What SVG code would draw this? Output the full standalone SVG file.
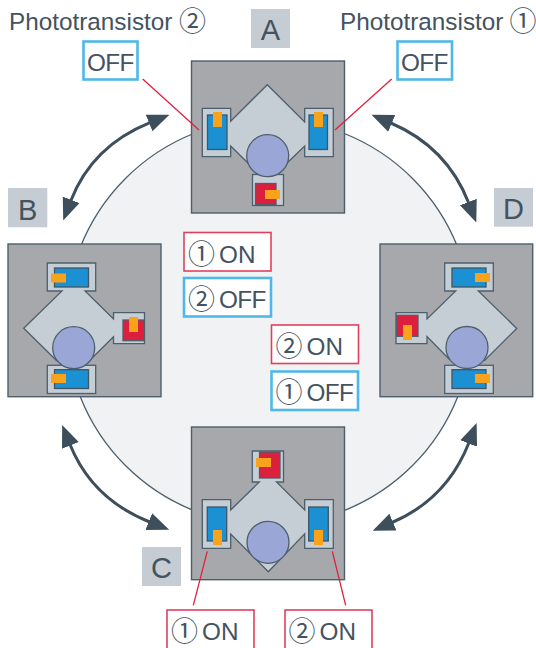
<svg xmlns="http://www.w3.org/2000/svg" width="536" height="648" viewBox="0 0 536 648">
<style>
text{font-family:"Liberation Sans","Noto Sans CJK JP",sans-serif;font-size:24.3px;fill:#44535f}
.big{font-size:29px;text-anchor:middle}
.n{font-family:"Noto Sans CJK JP","Liberation Sans",sans-serif;font-size:27px}
.w{letter-spacing:-.6px}
.frame{fill:#a7a8ab;stroke:#4d5f6c;stroke-width:1.4}
.body{fill:#c6ced5;stroke:#4d5f6c;stroke-width:1.3;stroke-linejoin:miter}
.sens{fill:#c6ced5;stroke:#4d5f6c;stroke-width:1.3}
.blue{fill:#1b90d2;stroke:#3e5666;stroke-width:1.3}
.red{fill:#dc1f3d;stroke:#4d5f6c;stroke-width:1.3}
.or{fill:#f8a31b}
.disc{fill:#99a6d6;stroke:#4d5f6c;stroke-width:1.3}
.tag{fill:#c5ccd3}
.on{fill:#fff;stroke:#e0405f;stroke-width:1.6}
.off{fill:#fff;stroke:#4fb8e8;stroke-width:2.6}
.lead{fill:none;stroke:#e0213f;stroke-width:1.3}
.arc{fill:none;stroke:#3d4f5c;stroke-width:3;marker-start:url(#head);marker-end:url(#head)}
</style>
<defs>
<marker id="head" markerUnits="userSpaceOnUse" markerWidth="22" markerHeight="20" viewBox="0 0 22 20" refX="1" refY="10" orient="auto-start-reverse"><path d="M0 1L22 10L0 19Z" fill="#3d4f5c"/></marker>
</defs>
<circle id="ring" cx="269" cy="322" r="203" fill="#f1f2f4" stroke="#4d5f6c" stroke-width="1.3"/>
<g id="arrows">
<path class="arc" d="M150 122.6Q92 146 70.8 200.8"/>
<path class="arc" d="M390.8 123Q447 147 468.7 203"/>
<path class="arc" d="M70 444.5Q92 499 149.7 522"/>
<path class="arc" d="M469 442.5Q447 499 392 522.5"/>
</g>
<g id="node-a">
<rect class="frame" x="191.5" y="61" width="153" height="152"/>
<path class="body" d="M250 165L230.7 146V156.7H202.3V108.3H230.7V121.3L267.3 84.7L304.7 122V108.3H333.3V156.7H304.7V146L285 165"/>
<rect class="blue" x="207.5" y="115" width="19.5" height="34.5"/><rect class="or" x="213" y="112" width="9" height="15"/>
<rect class="blue" x="309" y="115" width="18.5" height="34.5"/><rect class="or" x="314" y="112" width="9" height="15"/>
<rect class="sens" x="252.5" y="174.5" width="31" height="31"/><rect class="red" x="255.5" y="183.5" width="20.5" height="21"/><rect class="or" x="265" y="190" width="15" height="9"/>
<circle class="disc" cx="267.7" cy="155.7" r="21"/>
<rect class="tag" x="251" y="9" width="39" height="39"/><text class="big" x="270.5" y="40">A</text>
</g>
<g id="node-b">
<rect class="frame" x="8" y="244" width="153" height="152.7"/>
<path class="body" d="M57 361L23.7 328.3L62 291H47.3V263H95.7V291H85L113.5 319V312.7H144.5V343.7H113.5V336.7L90 360"/>
<rect class="blue" x="54.5" y="268" width="34" height="19"/><rect class="or" x="51" y="273.5" width="15" height="9"/>
<rect class="sens" x="47.3" y="365.3" width="48.4" height="28.2"/><rect class="blue" x="54.5" y="369.7" width="34" height="18.8"/><rect class="or" x="51" y="374" width="15" height="9"/>
<rect class="red" x="123" y="320" width="21" height="20.7"/><rect class="or" x="129" y="317" width="9" height="15"/>
<circle class="disc" cx="73.7" cy="347.7" r="21"/>
<rect class="tag" x="8" y="188" width="39.3" height="39.3"/><text class="big" x="27.7" y="220">B</text>
</g>
<g id="node-c">
<rect class="frame" x="191.5" y="427" width="153" height="152.7"/>
<path class="body" d="M252.3 451H283.5V482H276.5L304.7 510V499.7H333.3V548.3H304.7V533.8L268.3 571.7L230.7 534V548.3H202.3V499.7H230.7V510L259.3 482H252.3Z"/>
<rect class="blue" x="207.3" y="507" width="19.4" height="34"/><rect class="or" x="213" y="530" width="9" height="15"/>
<rect class="blue" x="308.7" y="507" width="19.6" height="34"/><rect class="or" x="314" y="530" width="9" height="15"/>
<rect class="red" x="259.5" y="452" width="20.5" height="26"/><rect class="or" x="256" y="458" width="15" height="9"/>
<circle class="disc" cx="268" cy="542.3" r="21"/>
<rect class="tag" x="142" y="547" width="39" height="39"/><text class="big" x="161.5" y="578">C</text>
</g>
<g id="node-d">
<rect class="frame" x="380" y="244" width="152.7" height="152.7"/>
<path class="body" d="M450 360L427 336.5V343.7H396V312.7H427V319L455.7 291H444.7V263H493.3V291H478.3L516.7 328.5L484 361"/>
<rect class="blue" x="452" y="268" width="34" height="19"/><rect class="or" x="475" y="273" width="15" height="9"/>
<rect class="sens" x="444.7" y="365.3" width="48.6" height="28.2"/><rect class="blue" x="452" y="369.7" width="34" height="18.8"/><rect class="or" x="475" y="374" width="15" height="9"/>
<rect class="red" x="396.7" y="315.3" width="21.3" height="21"/><rect class="or" x="403" y="325" width="9" height="15"/>
<circle class="disc" cx="467" cy="347.5" r="21"/>
<rect class="tag" x="494" y="188" width="39" height="38.7"/><text class="big" x="513.5" y="219">D</text>
</g>
<g id="connectors">
<path class="lead" d="M142.7 79L199 130"/>
<path class="lead" d="M391.7 79L335 130"/>
<path class="lead" d="M207.3 551.3L193.3 605.3"/>
<path class="lead" d="M332.3 551.3L345.7 605.3"/>
</g>
<g id="label-pt2"><text x="9" y="30">Phototransistor <tspan class="n" x="179" y="31">②</tspan></text><rect class="off" x="83.5" y="41.5" width="54" height="38"/><text class="w" x="87" y="71">OFF</text></g>
<g id="label-pt1"><text x="340" y="30">Phototransistor <tspan class="n" x="509.5" y="31">①</tspan></text><rect class="off" x="397.5" y="41.5" width="54.5" height="38"/><text class="w" x="401" y="71">OFF</text></g>
<g id="state-1"><rect class="on" x="184" y="232.5" width="87" height="38.5"/><text x="188" y="263"><tspan class="n" y="264">①</tspan> <tspan x="219" y="263">ON</tspan></text>
<rect class="off" x="184" y="278" width="87" height="38.5"/><text x="188" y="307.5"><tspan class="n" y="308.5">②</tspan> <tspan class="w" x="219" y="307.5">OFF</tspan></text></g>
<g id="state-2"><rect class="on" x="271.5" y="325" width="87" height="38.5"/><text x="275.5" y="355"><tspan class="n" y="356">②</tspan> <tspan x="306.5" y="355">ON</tspan></text>
<rect class="off" x="271.5" y="371.5" width="86.5" height="38.5"/><text x="275.5" y="401"><tspan class="n" y="402">①</tspan> <tspan class="w" x="306.5" y="401">OFF</tspan></text></g>
<g id="state-3"><rect class="on" x="167" y="610" width="87" height="44"/><text x="171" y="639.5"><tspan class="n" y="640.5">①</tspan> <tspan x="202" y="639.5">ON</tspan></text>
<rect class="on" x="285" y="610" width="87" height="44"/><text x="288.5" y="639.5"><tspan class="n" y="640.5">②</tspan> <tspan x="319.5" y="639.5">ON</tspan></text></g>
</svg>
